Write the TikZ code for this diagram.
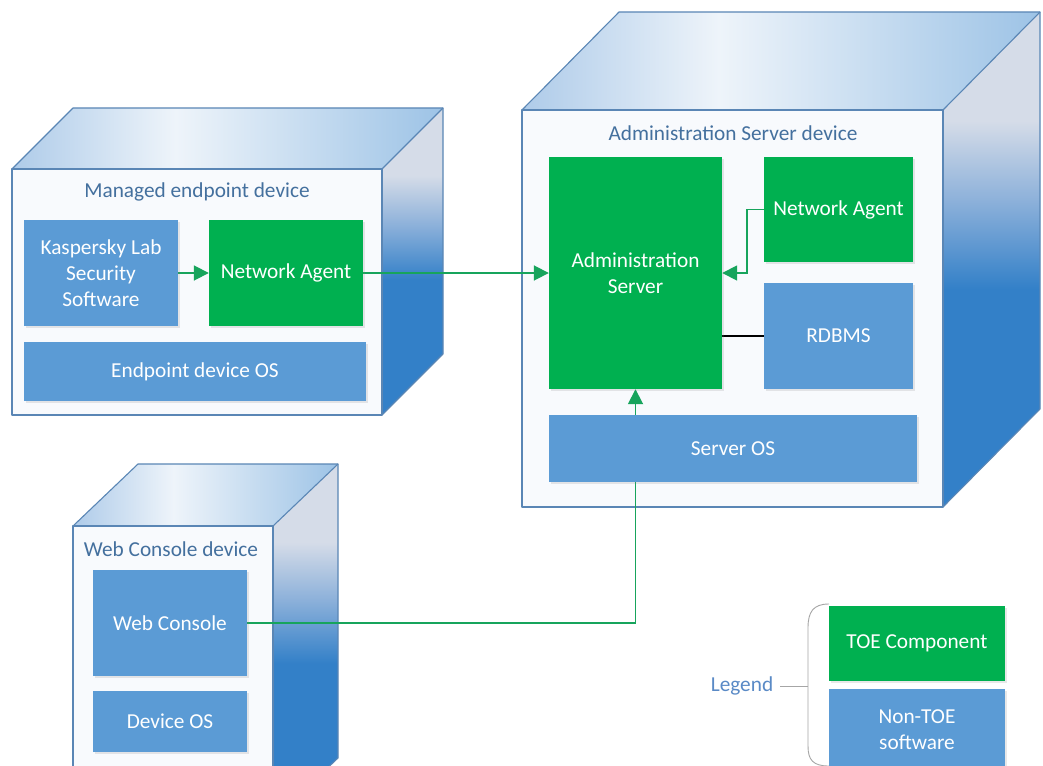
\documentclass[tikz,border=0pt]{standalone}
\usepackage{fontspec}
\setmainfont{Carlito}
\usetikzlibrary{arrows.meta,shadows}
\definecolor{toegreen}{HTML}{00B050}
\definecolor{nonblue}{HTML}{5B9BD5}
\definecolor{edgec}{HTML}{5A86B5}
\definecolor{titlec}{HTML}{44709E}
\definecolor{legc}{HTML}{5A8AC6}
\definecolor{linkg}{HTML}{17A45C}
\definecolor{topA}{HTML}{AECBE9}
\definecolor{topB}{HTML}{EEF4FA}
\definecolor{topC}{HTML}{9DC3E6}
\definecolor{sideA}{HTML}{D5DCE8}
\definecolor{sideB}{HTML}{8DB1DA}
\definecolor{sideC}{HTML}{3380C8}
\definecolor{frontc}{HTML}{F8FAFD}
\definecolor{bracec}{HTML}{A6A6A6}
\pgfdeclarehorizontalshading{topsh}{100bp}{color(0bp)=(topA); color(25bp)=(topA); color(44bp)=(topB); color(75bp)=(topC); color(100bp)=(topC)}
\pgfdeclareverticalshading{sidesh}{100bp}{color(0bp)=(sideC); color(47bp)=(sideC); color(56bp)=(sideB); color(64bp)=(sideA); color(100bp)=(sideA)}
\pgfdeclarelayer{bg}
\pgfdeclarelayer{mid}
\pgfsetlayers{bg,mid,main}
% x1 y1 x2 y2 dx dy
\newcommand\devcube[6]{%
  \shade[shading=topsh]
    (#1,#2) -- ++(#5,#6) -- ++({#3-#1},0) -- (#3,#2) -- cycle;
  \shade[shading=sidesh]
    (#3,#2) -- ++(#5,#6) -- ++(0,{#4-#2}) -- (#3,#4) -- cycle;
  \fill[frontc] (#1,#2) rectangle (#3,#4);
  \draw[cubeedge] (#1,#2) -- ++(#5,#6) -- ++({#3-#1},0) -- ++(0,{#4-#2}) -- (#3,#4);
  \draw[cubeedge] (#3,#2) -- ++(#5,#6);
  \draw[cubeedge] (#1,#2) rectangle (#3,#4);
}
\begin{document}
\begin{tikzpicture}[x=1pt,y=-1pt,
  cubeedge/.style={draw=edgec, line width=1.1pt, line join=round},
  box/.style={rectangle, inner sep=2pt, align=center, text=white,
    font=\fontsize{21.3}{26}\selectfont,
    drop shadow={opacity=0.18, shadow xshift=1.5pt, shadow yshift=-1.5pt}},
  toebox/.style={box, fill=toegreen},
  nonbox/.style={box, fill=nonblue},
  devtitle/.style={text=titlec, font=\fontsize{21.3}{26}\selectfont, inner sep=0pt},
  link/.style={draw=linkg, line width=1.8pt},
  linkarrow/.style={link, -{Triangle[length=15pt,width=15pt]}}]
\clip (0,0) rectangle (1043,765);

\begin{pgfonlayer}{bg}
\clip (0,0) rectangle (1043,765);
\fill[white] (0,0) rectangle (1043,765);
\devcube{12}{169}{382}{415}{61}{-61}
\devcube{522}{110}{943}{507}{97}{-98}
\devcube{73}{526}{273}{820}{65}{-62}
\end{pgfonlayer}

% Managed endpoint device
\node[devtitle] (t1) at (197,192) {Managed endpoint device};
\node[nonbox, minimum width=154pt, minimum height=106pt] (kls) at (101,273) {Kaspersky Lab\\Security\\Software};
\node[toebox, minimum width=154pt, minimum height=106pt] (na1) at (286,273) {Network Agent};
\node[nonbox, minimum width=342pt, minimum height=59pt] (eos) at (195,371.5) {Endpoint device OS};

% Administration Server device
\node[devtitle] (t2) at (733,133) {Administration Server device};
\node[toebox, minimum width=173pt, minimum height=232pt] (as) at (635.5,273) {Administration\\Server};
\node[toebox, minimum width=149pt, minimum height=105pt] (na2) at (838.5,209.5) {Network Agent};
\node[nonbox, minimum width=149pt, minimum height=106pt] (rdb) at (838.5,336) {RDBMS};
\node[nonbox, minimum width=368pt, minimum height=67pt] (sos) at (733,448.5) {Server OS};

% Web Console device
\node[devtitle] (t3) at (171,549) {Web Console device};
\node[nonbox, minimum width=154pt, minimum height=106pt] (wc) at (170,623) {Web Console};
\node[nonbox, minimum width=154pt, minimum height=61pt] (dos) at (170,721.5) {Device OS};

% Legend
\node[toebox, minimum width=176pt, minimum height=75pt] (toe) at (917,643.5) {TOE Component};
\node[nonbox, minimum width=176pt, minimum height=82pt] (ntoe) at (917,730) {Non-TOE\\software};
\node[text=legc, font=\fontsize{21.3}{26}\selectfont, inner sep=0pt] (leg) at (742,686) {Legend};
\coordinate (bm) at (808,686);
\draw[draw=bracec, line width=0.9pt] (leg.east) ++(7,0) -- (bm);
\draw[draw=bracec, line width=0.9pt] (829,604) .. controls (813,604) and (808,612) .. (808,628)
  -- (808,746) .. controls (808,760) and (813,766) .. (829,766);

% Connectors
\begin{pgfonlayer}{mid}
\clip (0,0) rectangle (1043,765);
\draw[linkarrow] (kls.east) -- (na1.west);
\draw[linkarrow] (na1.east) -- (as.west);
\draw[linkarrow] (na2.west) -- ++(-17,0) |- (as.east);
\draw[draw=black, line width=1.1pt] (rdb.west) -- (rdb.west -| as.east);
\draw[linkarrow] (wc.east) -| (as.south);
\end{pgfonlayer}
\end{tikzpicture}
\end{document}
